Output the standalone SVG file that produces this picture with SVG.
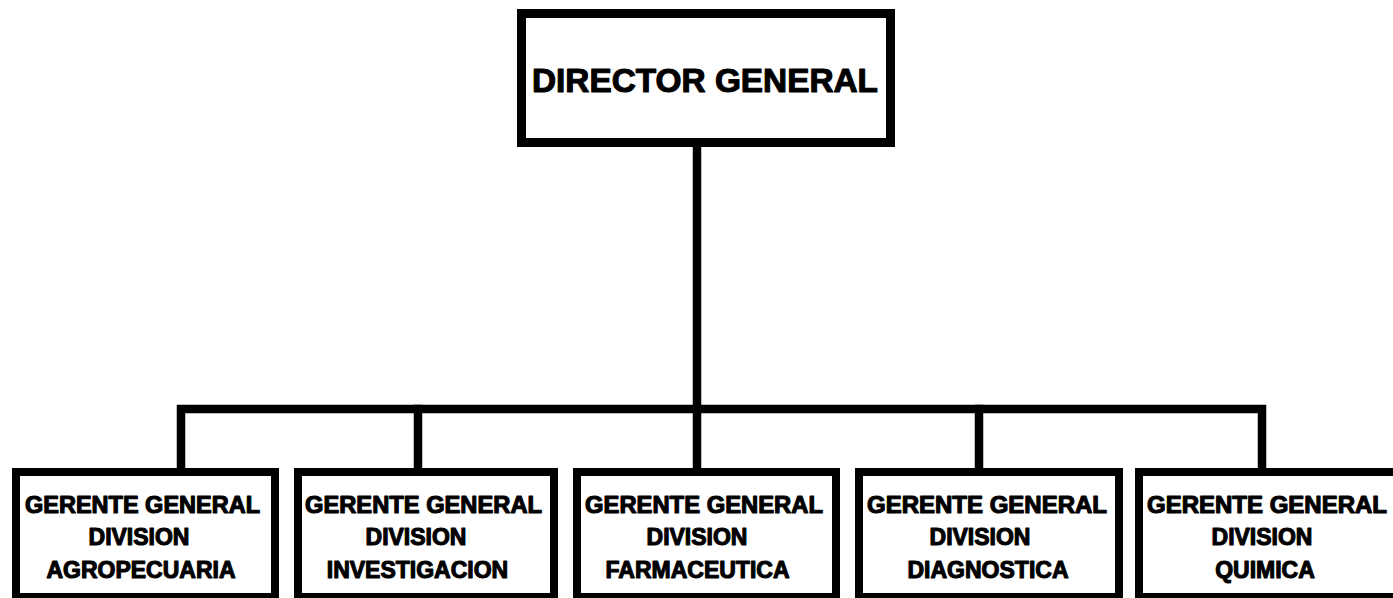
<svg xmlns="http://www.w3.org/2000/svg" width="1393" height="598" viewBox="0 0 1393 598">
<style>
.box{fill:#fff;stroke:#000;stroke-width:8}
.top{stroke-width:9}
.con{fill:none;stroke:#000;stroke-width:8.5;stroke-linecap:square;stroke-linejoin:miter}
text{font-family:"Liberation Sans",Arial,sans-serif;font-weight:bold;fill:#000;stroke:#000;stroke-width:1.1;stroke-linejoin:round;text-anchor:middle}
.t1{font-size:33.5px}
.t2{font-size:23px}
</style>
<rect width="1393" height="598" fill="#fff"/>
<g id="connectors">
<path class="con" d="M697 147V409"/>
<path class="con" d="M181 468V409H1262V468"/>
<path class="con" d="M418 409V468"/>
<path class="con" d="M697 409V468"/>
<path class="con" d="M979 409V468"/>
</g>
<g id="director">
<rect class="box top" x="521.5" y="13.5" width="369" height="129"/>
<text class="t1" x="705" y="92" textLength="346" lengthAdjust="spacingAndGlyphs">DIRECTOR GENERAL</text>
</g>
<g id="agropecuaria">
<rect class="box" x="16" y="472" width="259" height="125"/>
<text class="t2" x="142.5" y="513" textLength="235" lengthAdjust="spacingAndGlyphs">GERENTE GENERAL</text>
<text class="t2" x="139" y="545">DIVISION</text>
<text class="t2" x="141" y="578">AGROPECUARIA</text>
</g>
<g id="investigacion">
<rect class="box" x="298" y="472" width="256" height="125"/>
<text class="t2" x="423.5" y="513" textLength="237" lengthAdjust="spacingAndGlyphs">GERENTE GENERAL</text>
<text class="t2" x="416" y="545">DIVISION</text>
<text class="t2" x="417.5" y="578">INVESTIGACION</text>
</g>
<g id="farmaceutica">
<rect class="box" x="577" y="472" width="259" height="125"/>
<text class="t2" x="704" y="513" textLength="238" lengthAdjust="spacingAndGlyphs">GERENTE GENERAL</text>
<text class="t2" x="697" y="545">DIVISION</text>
<text class="t2" x="697.5" y="578">FARMACEUTICA</text>
</g>
<g id="diagnostica">
<rect class="box" x="859" y="472" width="260" height="125"/>
<text class="t2" x="987" y="513" textLength="240" lengthAdjust="spacingAndGlyphs">GERENTE GENERAL</text>
<text class="t2" x="980" y="545">DIVISION</text>
<text class="t2" x="988" y="578">DIAGNOSTICA</text>
</g>
<g id="quimica">
<rect class="box" x="1139" y="472" width="262" height="125"/>
<text class="t2" x="1267" y="513" textLength="240" lengthAdjust="spacingAndGlyphs">GERENTE GENERAL</text>
<text class="t2" x="1262" y="545">DIVISION</text>
<text class="t2" x="1265" y="578">QUIMICA</text>
</g>
</svg>
